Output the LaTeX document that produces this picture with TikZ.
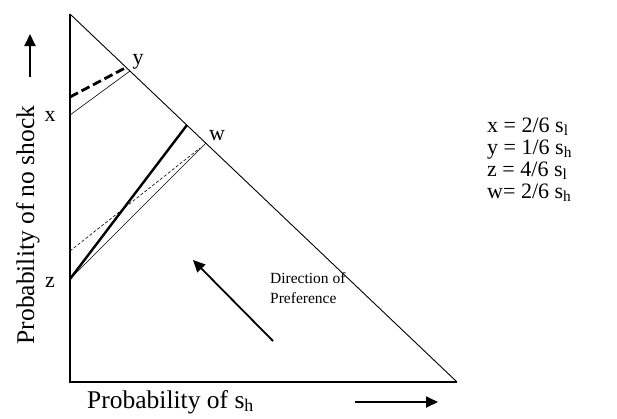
\documentclass[tikz,border=0pt]{standalone}
\usepackage{fontspec}
\setmainfont{Liberation Serif}
\usetikzlibrary{arrows.meta}
\begin{document}
\begin{tikzpicture}[x=1pt,y=-1pt,
  axisln/.style={line width=1.8pt},
  hypln/.style={line width=0.9pt},
  thinln/.style={line width=0.6pt},
  thickln/.style={line width=2.4pt},
  thickdash/.style={line width=2.8pt, dash pattern=on 9pt off 4pt},
  thindash/.style={line width=0.6pt, dash pattern=on 3pt off 2pt},
  arr/.style={line width=1.8pt, -{Triangle[length=12pt,width=11pt]}},
  ptlbl/.style={inner sep=0pt, font=\fontsize{22}{26}\selectfont},
  axlbl/.style={inner sep=0pt, font=\fontsize{25.5}{30}\selectfont},
  deflbl/.style={inner sep=0pt, anchor=base west, font=\fontsize{22}{26}\selectfont},
  dirlbl/.style={inner sep=0pt, anchor=base west, font=\fontsize{15.5}{18}\selectfont}]
\useasboundingbox (0,0) rectangle (617,418);
% triangle
\coordinate (T) at (70,14);
\coordinate (O) at (70,382);
\coordinate (R) at (457,382);
\draw[axisln] (T) -- (O) -- (R);
\draw[hypln] (T) -- (R);
% points
\coordinate (px) at (70,115);
\coordinate (py) at (130,71);
\coordinate (pa) at (70,97);
\coordinate (pb) at (126,67.5);
\coordinate (pz) at (70,279);
\coordinate (pw) at (206,143);
\coordinate (pc) at (187,125);
\coordinate (pd) at (70,251);
\coordinate (pe) at (200,148);
\draw[thinln] (px) -- (py);
\draw[thickdash] (pa) -- (pb);
\draw[thinln] (pz) -- (pw);
\draw[thickln] (pz) -- (pc);
\draw[thindash] (pd) -- (pe);
% point labels
\node[ptlbl] (lx) at (50,116) {x};
\node[ptlbl] (ly) at (138,62) {y};
\node[ptlbl] (lz) at (50,282) {z};
\node[ptlbl] (lw) at (217,136) {w};
% direction of preference
\coordinate (d1) at (273,341);
\coordinate (d2) at (193,260);
\draw[arr] (d1) -- (d2);
\node[dirlbl] (dir1) at (270,283) {Direction of};
\node[dirlbl] (dir2) at (270,303) {Preference};
% axis labels
\node[axlbl, rotate=90] (ylab) at (28,225) {Probability of no shock};
\coordinate (ya1) at (30,77);
\coordinate (ya2) at (30,34);
\draw[arr] (ya1) -- (ya2);
\node[axlbl, anchor=base west] (xlab) at (87,408) {Probability of s\textsubscript{h}};
\coordinate (xa1) at (355,402);
\coordinate (xa2) at (438,402);
\draw[arr] (xa1) -- (xa2);
% definitions
\node[deflbl] (defx) at (487,132) {x = 2/6 s\textsubscript{l}};
\node[deflbl] (defy) at (487,154) {y = 1/6 s\textsubscript{h}};
\node[deflbl] (defz) at (487,176) {z = 4/6 s\textsubscript{l}};
\node[deflbl] (defw) at (487,198) {w= 2/6 s\textsubscript{h}};
\end{tikzpicture}
\end{document}
